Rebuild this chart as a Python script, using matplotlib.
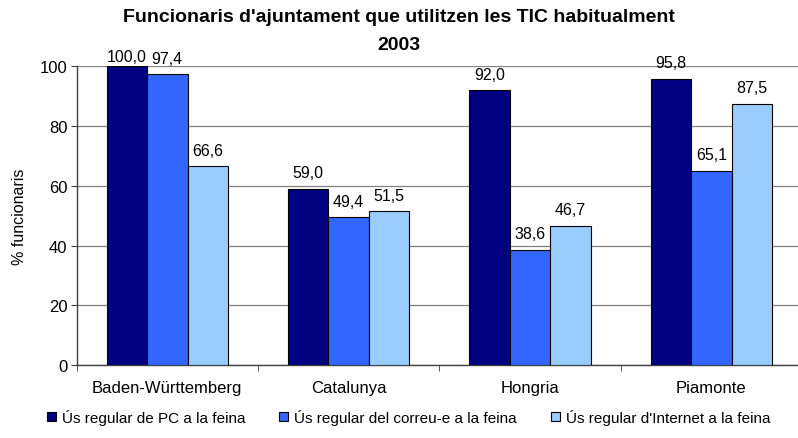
import matplotlib.pyplot as plt
import numpy as np

plt.rcParams["font.family"] = ["Liberation Sans", "DejaVu Sans"]

categories = ["Baden-Württemberg", "Catalunya", "Hongria", "Piamonte"]
series_names = [
    "Ús regular de PC a la feina",
    "Ús regular del correu-e a la feina",
    "Ús regular d'Internet a la feina",
]
pc = [100.0, 59.0, 92.0, 95.8]
correu = [97.4, 49.4, 38.6, 65.1]
internet = [66.6, 51.5, 46.7, 87.5]
colors = ["#000080", "#3366FF", "#99CCFF"]

fig = plt.figure(figsize=(7.98, 4.39), dpi=100)
ax = fig.add_axes([0.096, 0.166, 0.909, 0.681])

x = np.arange(len(categories))
width = 0.223
for i, (vals, name, col) in enumerate(zip([pc, correu, internet], series_names, colors)):
    pos = x + (i - 1) * width
    ax.bar(pos, vals, width, color=col, edgecolor="black", linewidth=0.8,
           label=name, zorder=3)
    # etiquetes de dades, limitades a la part superior de l'area
    for p, v in zip(pos, vals):
        ax.text(p, min(v + 5.3, 103.2), f"{v:.1f}".replace(".", ","),
                ha="center", va="center", fontsize=11.5, clip_on=False)

ax.set_xlim(-0.5, len(categories) - 0.5)
ax.set_ylim(0, 100)
ax.set_yticks([0, 20, 40, 60, 80, 100])
ax.yaxis.grid(True, color="#808080", linewidth=0.9, zorder=0)
ax.set_xticks(x)
ax.set_xticklabels(categories, fontsize=12)
ax.set_xticks(np.arange(len(categories) + 1) - 0.5, minor=True)
ax.tick_params(axis="x", which="major", length=0, pad=11)
ax.tick_params(axis="x", which="minor", length=4, color="#404040")
ax.tick_params(axis="y", labelsize=12, length=4, pad=2.5, color="#404040")
for s in ["top", "right"]:
    ax.spines[s].set_visible(False)
for s in ["left", "bottom"]:
    ax.spines[s].set_color("#404040")
    ax.spines[s].set_linewidth(1.0)

ax.set_ylabel("% funcionaris", fontsize=11.5, labelpad=9)
fig.text(0.5, 0.959, "Funcionaris d'ajuntament que utilitzen les TIC habitualment",
         ha="center", va="center", fontsize=14, fontweight="bold")
fig.text(0.5, 0.897, "2003", ha="center", va="center", fontsize=14, fontweight="bold")

fig.legend(loc="center", bbox_to_anchor=(0.512, 0.048), ncol=3, frameon=False,
           fontsize=11, handlelength=0.6, handleheight=0.6, handletextpad=0.4,
           columnspacing=2.2)

fig.savefig("out.png", dpi=100)
